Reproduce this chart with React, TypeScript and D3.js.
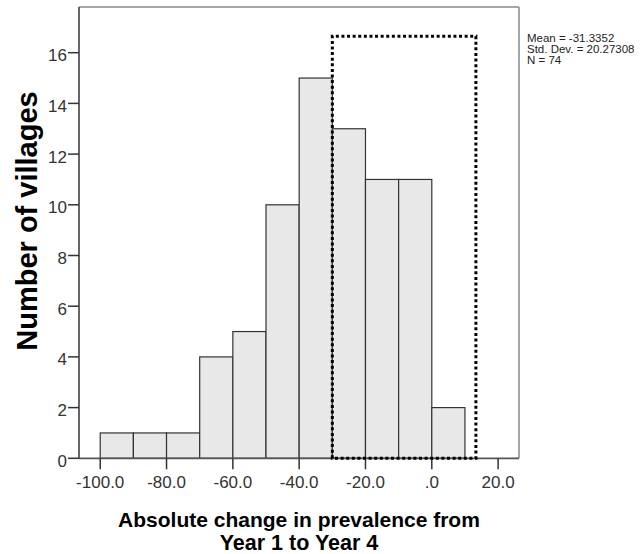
import React from "react";
import * as d3 from "d3";

const binStarts = [-100, -90, -80, -70, -60, -50, -40, -30, -20, -10, 0];
const binCounts = [1, 1, 1, 4, 5, 10, 15, 13, 11, 11, 2];
const binWidth = 10;
const xTicks = [-100, -80, -60, -40, -20, 0, 20];
const xTickLabels = ["-100.0", "-80.0", "-60.0", "-40.0", "-20.0", ".0", "20.0"];
const yTicks = [0, 2, 4, 6, 8, 10, 12, 14, 16];
const statsLines = ["Mean = -31.3352", "Std. Dev. = 20.27308", "N = 74"];
const dottedBox = { x0: -30, x1: 13.3, y: 16.65 };

export default function App() {
  const W = 644, H = 554;
  const left = 79, right = 519, top = 7, bottom = 458.3;
  const x = d3.scaleLinear().domain([-106.4, 26.3]).range([left, right]);
  const y = d3.scaleLinear().domain([0, 17.7]).range([bottom, bottom - 17.7 * 25.35]);
  const axisColor = "#555";
  const font = "Arial, 'Liberation Sans', sans-serif";

  return (
    <svg width={W} height={H} style={{ position: "absolute", left: 0, top: 0, background: "#fff" }} fontFamily={font}>
      <rect x={0} y={0} width={W} height={H} fill="#fff" />
      {/* bars */}
      {binStarts.map((s, i) => (
        <rect
          key={i}
          x={x(s)}
          y={y(binCounts[i])}
          width={x(s + binWidth) - x(s)}
          height={y(0) - y(binCounts[i])}
          fill="#e8e8e8"
          stroke="#333"
          strokeWidth={1.2}
        />
      ))}
      {/* frame */}
      <line x1={left} x2={right} y1={top} y2={top} stroke="#888" strokeWidth={1.5} />
      <line x1={right} x2={right} y1={top} y2={bottom} stroke="#888" strokeWidth={1.5} />
      <line x1={left} x2={left} y1={top} y2={bottom} stroke={axisColor} strokeWidth={1.8} />
      <line x1={left} x2={right} y1={bottom} y2={bottom} stroke={axisColor} strokeWidth={1.8} />
      {/* y ticks */}
      {yTicks.map((t) => (
        <g key={t}>
          <line x1={left - 11} x2={left} y1={y(t)} y2={y(t)} stroke="#333" strokeWidth={1.5} />
          <text x={left - 12} y={y(t) + 8.5} textAnchor="end" fontSize={17} fill="#333">{t}</text>
        </g>
      ))}
      {/* x ticks */}
      {xTicks.map((t, i) => (
        <g key={t}>
          <line x1={x(t)} x2={x(t)} y1={bottom} y2={bottom + 11} stroke="#333" strokeWidth={1.5} />
          <text x={x(t)} y={bottom + 29.5} textAnchor="middle" fontSize={17} fill="#333">{xTickLabels[i]}</text>
        </g>
      ))}
      {/* dotted box */}
      <path
        d={`M${x(dottedBox.x0)},${y(0)} L${x(dottedBox.x0)},${y(dottedBox.y)} L${x(dottedBox.x1)},${y(dottedBox.y)} L${x(dottedBox.x1)},${y(0)} Z`}
        fill="none"
        stroke="#000"
        strokeWidth={3}
        strokeDasharray="3 2.6"
      />
      {/* stats */}
      {statsLines.map((l, i) => (
        <text key={i} x={527} y={42 + i * 11} fontSize={11.5} fill="#222">{l}</text>
      ))}
      {/* y label */}
      <text
        transform={`translate(37, 221) rotate(-90)`}
        textAnchor="middle"
        fontSize={29}
        fontWeight="bold"
        fill="#000"
      >Number of villages</text>
      {/* x label */}
      <text x={299} y={527} textAnchor="middle" fontSize={21} fontWeight="bold" fill="#000">Absolute change in prevalence from</text>
      <text x={299} y={550} textAnchor="middle" fontSize={21.5} fontWeight="bold" fill="#000">Year 1 to Year 4</text>
    </svg>
  );
}
